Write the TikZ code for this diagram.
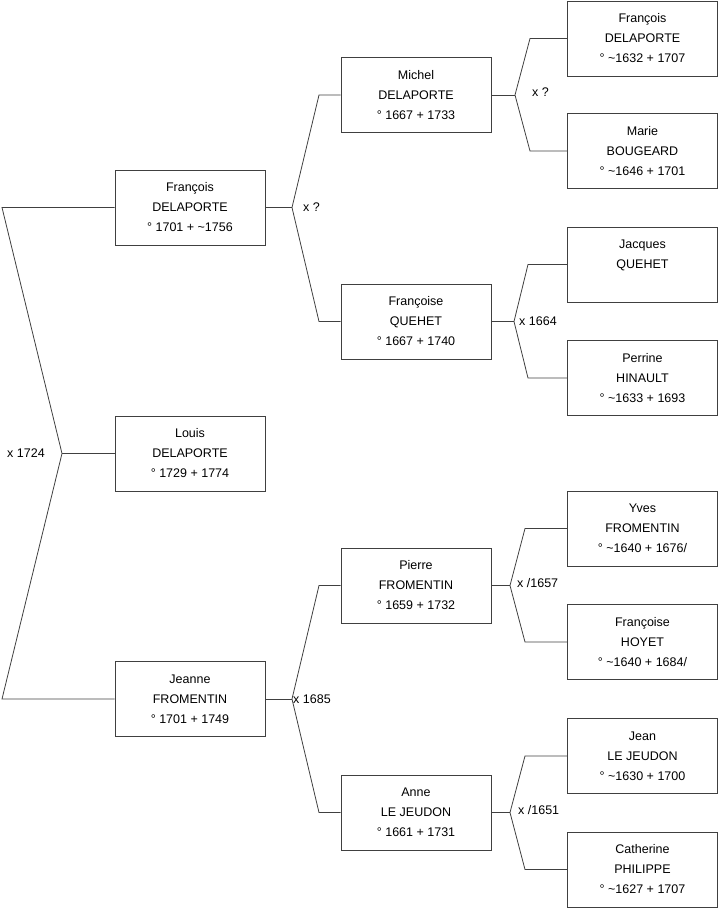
\documentclass[tikz,border=0pt]{standalone}
\usepackage{fontspec}
\setmainfont{Liberation Sans}

\begin{document}
\begin{tikzpicture}[x=1pt,y=-1pt,
  person/.style={draw=black!75, line width=0.8pt, minimum width=150pt, minimum height=75pt, inner sep=0pt, align=center, font=\fontsize{12.5}{20}\selectfont},
  link/.style={draw=black!75, line width=0.8pt},
  union/.style={anchor=west, inner sep=0pt, font=\fontsize{12.5}{15}\selectfont}]
\useasboundingbox (0,0) rectangle (719,908);
% generation 1
\node[person] (louis) at (190,453.5) {Louis\\DELAPORTE\\° 1729 + 1774};
\node[person] (francois) at (190,207.5) {François\\DELAPORTE\\° 1701 + \textasciitilde1756};
\node[person] (jeanne) at (190,699) {Jeanne\\FROMENTIN\\° 1701 + 1749};
% generation 2
\node[person] (michel) at (416,95) {Michel\\DELAPORTE\\° 1667 + 1733};
\node[person] (francoiseQ) at (416,321.5) {Françoise\\QUEHET\\° 1667 + 1740};
\node[person] (pierre) at (416,585.5) {Pierre\\FROMENTIN\\° 1659 + 1732};
\node[person] (anne) at (416,812.5) {Anne\\LE JEUDON\\° 1661 + 1731};
% generation 3
\node[person] (francoisD) at (642.5,38.5) {François\\DELAPORTE\\° \textasciitilde1632 + 1707};
\node[person] (marie) at (642.5,151) {Marie\\BOUGEARD\\° \textasciitilde1646 + 1701};
\node[person] (jacques) at (642.5,264.5) {Jacques\\QUEHET\\\mbox{}};
\node[person] (perrine) at (642.5,378) {Perrine\\HINAULT\\° \textasciitilde1633 + 1693};
\node[person] (yves) at (642.5,528.5) {Yves\\FROMENTIN\\° \textasciitilde1640 + 1676/};
\node[person] (francoiseH) at (642.5,642) {Françoise\\HOYET\\° \textasciitilde1640 + 1684/};
\node[person] (jean) at (642.5,756) {Jean\\LE JEUDON\\° \textasciitilde1630 + 1700};
\node[person] (catherine) at (642.5,869.5) {Catherine\\PHILIPPE\\° \textasciitilde1627 + 1707};

% unions
\coordinate (u1) at (62,453.5);
\coordinate (u1a) at (2,207.5);
\coordinate (u1b) at (2,699);
\draw[link] (francois.west) -- (u1a) -- (u1) -- (u1b) -- (jeanne.west);
\draw[link] (u1) -- (louis.west);
\node[union] (m1) at (7,453.5) {x 1724};

\coordinate (u2) at (292,207.5);
\coordinate (u2a) at (319,95);
\coordinate (u2b) at (319,321.5);
\draw[link] (michel.west) -- (u2a) -- (u2) -- (u2b) -- (francoiseQ.west);
\draw[link] (francois.east) -- (u2);
\node[union] (m2) at (303,207.5) {x ?};

\coordinate (u3) at (292,699);
\coordinate (u3a) at (319,585.5);
\coordinate (u3b) at (319,812.5);
\draw[link] (pierre.west) -- (u3a) -- (u3) -- (u3b) -- (anne.west);
\draw[link] (jeanne.east) -- (u3);
\node[union] (m3) at (293,699) {x 1685};

\coordinate (u4) at (515,95);
\coordinate (u4a) at (530,38.5);
\coordinate (u4b) at (530,151);
\draw[link] (francoisD.west) -- (u4a) -- (u4) -- (u4b) -- (marie.west);
\draw[link] (michel.east) -- (u4);
\node[union] (m4) at (532,92) {x ?};

\coordinate (u5) at (514,321.5);
\coordinate (u5a) at (528,264.5);
\coordinate (u5b) at (528,378);
\draw[link] (jacques.west) -- (u5a) -- (u5) -- (u5b) -- (perrine.west);
\draw[link] (francoiseQ.east) -- (u5);
\node[union] (m5) at (519,321.5) {x 1664};

\coordinate (u6) at (510,585.5);
\coordinate (u6a) at (525,528.5);
\coordinate (u6b) at (525,642);
\draw[link] (yves.west) -- (u6a) -- (u6) -- (u6b) -- (francoiseH.west);
\draw[link] (pierre.east) -- (u6);
\node[union] (m6) at (517,583) {x /1657};

\coordinate (u7) at (510,812.5);
\coordinate (u7a) at (525,756);
\coordinate (u7b) at (525,869.5);
\draw[link] (jean.west) -- (u7a) -- (u7) -- (u7b) -- (catherine.west);
\draw[link] (anne.east) -- (u7);
\node[union] (m7) at (518,810) {x /1651};
\end{tikzpicture}
\end{document}
